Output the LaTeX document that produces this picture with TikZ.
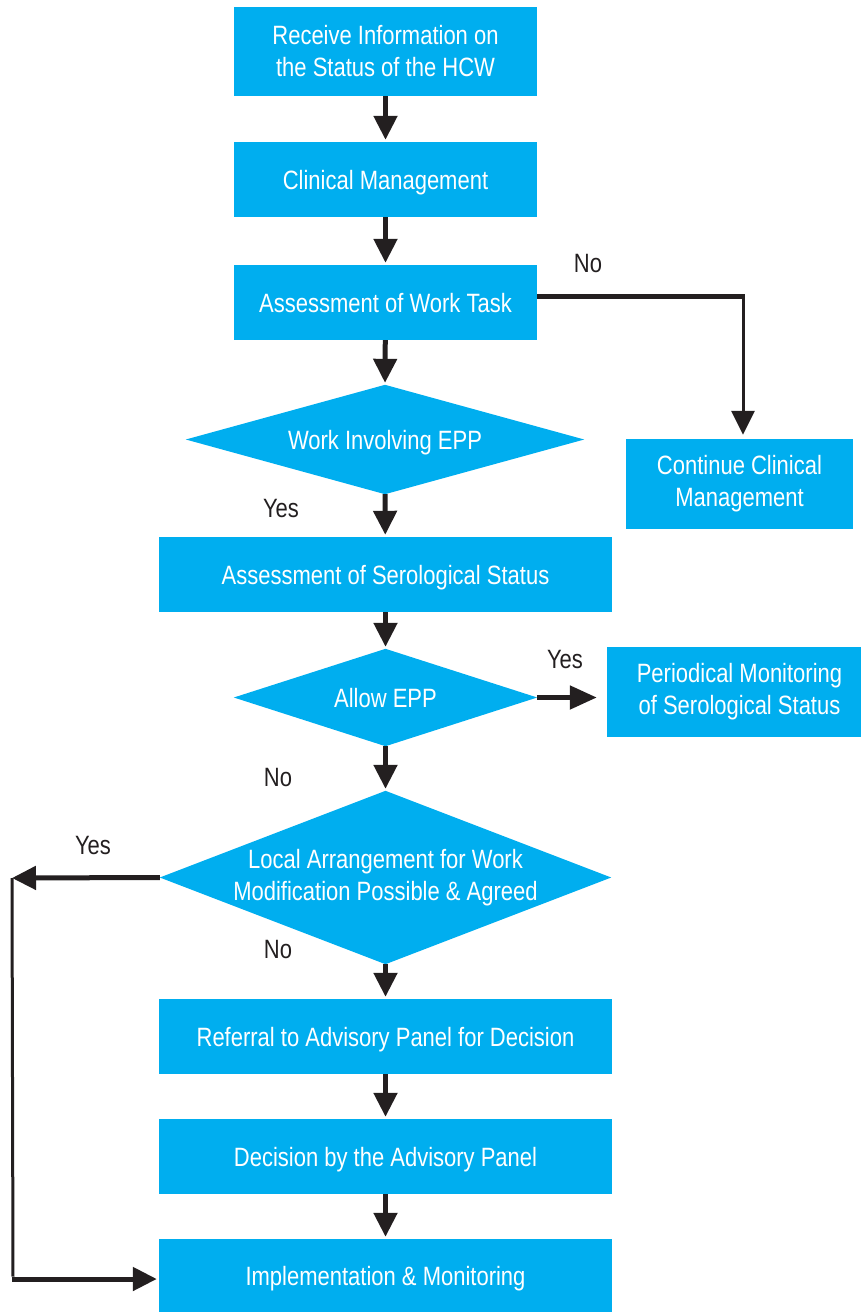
\documentclass[tikz,border=0pt]{standalone}
\usepackage{fontspec}
\setmainfont[FakeStretch=0.83]{Liberation Sans}
\usetikzlibrary{arrows.meta,backgrounds}
\definecolor{flowcyan}{HTML}{00AEEF}
\definecolor{flowink}{HTML}{231F20}

\begin{document}
\begin{tikzpicture}[x=1pt,y=-1pt,
  font=\fontsize{26.5}{32}\selectfont,
  box/.style={rectangle, fill=flowcyan, text=white, align=center, inner sep=0pt},
  dia/.style={rectangle, text=white, align=center, inner sep=0pt},
  oneline/.style={text depth=0pt},
  arr/.style={draw=flowink, line width=5pt, -{Triangle[length=24pt,width=23pt]}, shorten >=2pt},
  thinarr/.style={draw=flowink, line width=3pt, -{Triangle[length=24pt,width=23pt]}, shorten >=4pt},
  thinline/.style={draw=flowink, line width=3pt},
  thickline/.style={draw=flowink, line width=5pt},
  lbl/.style={text=flowink, inner sep=0pt}]

\useasboundingbox (0,0) rectangle (861,1312);

% process boxes
\node[box, minimum width=303pt, minimum height=89pt] (receive) at (385.5,51.5)
  {Receive Information on\\the Status of the HCW};
\node[box, oneline, minimum width=303pt, minimum height=75pt] (clinical) at (385.5,179.5)
  {Clinical Management};
\node[box, oneline, minimum width=303pt, minimum height=75pt] (task) at (385.5,302.5)
  {Assessment of Work Task};
\node[box, minimum width=227pt, minimum height=90pt] (continue) at (739.5,484)
  {Continue Clinical\\Management};
\node[box, oneline, minimum width=453pt, minimum height=75pt] (sero) at (385.5,574.5)
  {Assessment of Serological Status};
% this box runs on past the right edge of the page
\node[box, minimum width=265pt, minimum height=90pt] (periodic) at (739.5,692)
  {Periodical Monitoring\\of Serological Status};
\node[box, oneline, minimum width=453pt, minimum height=75pt] (referral) at (385.5,1036.5)
  {Referral to Advisory Panel for Decision};
\node[box, oneline, minimum width=453pt, minimum height=75pt] (decision) at (385.5,1156.5)
  {Decision by the Advisory Panel};
\node[box, oneline, minimum width=453pt, minimum height=73pt] (implement) at (385.5,1275.5)
  {Implementation \& Monitoring};

% decision diamonds (text frames; the rhombi are filled behind them)
\node[dia, oneline, minimum width=398pt, minimum height=109pt] (epp) at (385,439.5)
  {Work Involving EPP};
\node[dia, oneline, minimum width=303pt, minimum height=97pt] (allow) at (385.5,697.5)
  {Allow EPP};
\node[dia, minimum width=451pt, minimum height=173pt] (local) at (385.5,877.5)
  {Local Arrangement for Work\\Modification Possible \& Agreed};

\begin{scope}[on background layer]
  \foreach \d in {epp,allow,local}
    \fill[flowcyan] (\d.north) -- (\d.east) -- (\d.south) -- (\d.west) -- cycle;
\end{scope}

% main flow
\draw[arr] (receive) -- (clinical);
\draw[arr] (clinical) -- (task);
\draw[arr] (task) -- (epp.north);
\draw[arr] (epp.south) -- (sero);
\draw[arr] (sero) -- (allow.north);
\draw[arr] (allow.south) -- (local.north);
\draw[arr] (local.south) -- (referral);
\draw[arr] (referral) -- (decision);
\draw[arr] (decision) -- (implement);

% "No" branch from the work task assessment
\coordinate (nocorner) at (743,296);
\draw[thickline] (task.east |- nocorner) -- ([xshift=1.5pt]nocorner);
\draw[thinarr] ([yshift=-2.5pt]nocorner) -- (continue.north -| nocorner);

% "Yes" branch to periodical monitoring
\draw[draw=flowink, line width=5pt, -{Triangle[length=27pt,width=23pt]}, shorten >=10pt]
  (allow.east) -- (periodic.west |- allow.east);

% "Yes" loop back to implementation
\coordinate (looptop) at (12,878);
\coordinate (loopbot) at (13,1279);
\draw[arr, shorten >=0pt] (local.west) -- (looptop);
\draw[thinline] (looptop) -- ([yshift=2.5pt]loopbot);
\draw[arr] ([xshift=-1.5pt]loopbot) -- (implement.west |- loopbot);

% branch labels
\node[lbl] (lno1) at (588,264) {No};
\node[lbl] (lyes1) at (281,509) {Yes};
\node[lbl] (lyes2) at (565,660) {Yes};
\node[lbl] (lno2) at (278,778) {No};
\node[lbl] (lyes3) at (93,846) {Yes};
\node[lbl] (lno3) at (278,950) {No};
\end{tikzpicture}
\end{document}
